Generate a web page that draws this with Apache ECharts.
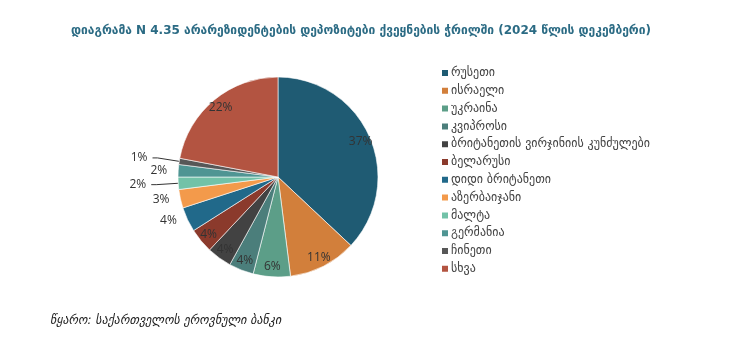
<!DOCTYPE html>
<html>
<head>
<meta charset="utf-8">
<script src="https://cdn.jsdelivr.net/npm/echarts@6/dist/echarts.min.js"></script>
<style>
  html, body { margin: 0; padding: 0; background: #fff; }
  #chart { width: 735px; height: 345px; }
</style>
</head>
<body>
<div id="chart"></div>
<script>
// Non-resident deposits by country, December 2024 (share, %)
const countries = [
  'რუსეთი', 'ისრაელი', 'უკრაინა', 'კვიპროსი',
  'ბრიტანეთის ვირჯინიის კუნძულები', 'ბელარუსი', 'დიდი ბრიტანეთი',
  'აზერბაიჯანი', 'მალტა', 'გერმანია', 'ჩინეთი', 'სხვა'
];
const shares = [37, 11, 6, 4, 4, 4, 4, 3, 2, 2, 1, 22];
const palette = [
  '#1F5B73', '#D27F3B', '#5C9E88', '#4B7E7B', '#424242', '#8B3A2C',
  '#21698A', '#F39A4B', '#72C2A8', '#4F9593', '#575757', '#B35441'
];
// slices whose percentage sits inside the wedge
const insideLabel = [true, true, true, true, true, true, false, false, false, false, false, true];
// outside labels that get a leader line
const withLeader = [false, false, false, false, false, false, false, false, true, false, true, false];

const titleText = 'დიაგრამა N 4.35 არარეზიდენტების დეპოზიტები ქვეყნების ჭრილში (2024 წლის დეკემბერი)';
const sourceText = 'წყარო: საქართველოს ეროვნული ბანკი';

const chart = echarts.init(document.getElementById('chart'), null, { renderer: 'canvas' });

const labelFont = { fontFamily: 'Open Sans', fontSize: 12, color: '#333' };

const mainData = countries.map((name, i) => ({
  name,
  value: shares[i],
  itemStyle: { color: palette[i] },
  label: insideLabel[i] ? { show: false } : { show: true },
  labelLine: withLeader[i]
    ? { show: true, length: 22, length2: 5 }
    : { show: false, length: 3, length2: 3 }
}));

const overlayData = countries.map((name, i) => ({
  name,
  value: shares[i],
  label: { show: insideLabel[i] }
}));

chart.setOption({
  animation: false,
  color: palette,
  title: {
    text: titleText,
    left: 66,
    top: 20,
    textStyle: { fontFamily: 'DejaVu Sans', fontSize: 12, fontWeight: 'bold', color: '#2B6B84' }
  },
  graphic: [{
    type: 'text',
    left: 50,
    top: 315,
    style: {
      text: sourceText,
      font: 'italic 12px "DejaVu Sans"',
      fill: '#222'
    }
  }],
  legend: {
    orient: 'vertical',
    left: 440,
    top: 67,
    padding: 0,
    itemWidth: 8,
    itemHeight: 8,
    itemGap: 5.8,
    icon: 'rect',
    data: countries,
    textStyle: { fontFamily: 'DejaVu Sans', fontSize: 12, color: '#444', lineHeight: 12, padding: [0, 0, 0, -3] }
  },
  series: [
    {
      type: 'pie',
      center: [278, 177],
      radius: [0, 100],
      startAngle: 90,
      clockwise: true,
      avoidLabelOverlap: false,
      data: mainData,
      itemStyle: { borderColor: '#ffffff', borderWidth: 0.6 },
      label: {
        position: 'outside',
        formatter: '{c}%',
        ...labelFont
      },
      labelLine: { lineStyle: { color: '#333', width: 1 } },
      emphasis: { disabled: true }
    },
    {
      type: 'pie',
      center: [278, 177],
      radius: [72, 102],
      startAngle: 90,
      clockwise: true,
      silent: true,
      avoidLabelOverlap: false,
      data: overlayData,
      itemStyle: { color: 'rgba(0,0,0,0)' },
      label: {
        position: 'inside',
        formatter: '{c}%',
        ...labelFont
      },
      labelLine: { show: false },
      emphasis: { disabled: true }
    }
  ]
});
</script>
</body>
</html>
